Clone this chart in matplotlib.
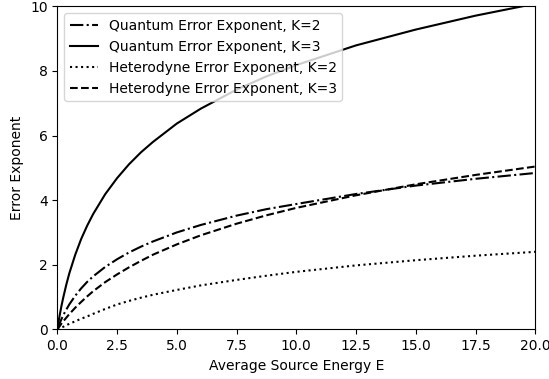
#!/usr/bin/env python3
"""Error exponent vs average source energy, quantum vs heterodyne, K=2 and K=3."""
import matplotlib
matplotlib.use("Agg")
import matplotlib.pyplot as plt

# Values (denser near E=0 where curves bend)
energy = [0, 0.05, 0.1, 0.175, 0.25, 0.375, 0.5, 0.75, 1, 1.25, 1.5, 2,
          2.5, 3, 3.5, 4, 5, 6, 7.5, 8.75, 10, 12.5, 15, 17.5, 20]
quantum_k2 = [0, 0.10, 0.19, 0.32, 0.44, 0.61, 0.77, 1.04, 1.27, 1.47, 1.64,
              1.93, 2.17, 2.38, 2.56, 2.72, 3.00, 3.23, 3.52, 3.72, 3.88,
              4.19, 4.45, 4.66, 4.84]
quantum_k3 = [0, 0.23, 0.44, 0.73, 0.99, 1.38, 1.73, 2.31, 2.80, 3.21, 3.57,
              4.18, 4.68, 5.11, 5.48, 5.80, 6.37, 6.83, 7.42, 7.83, 8.18,
              8.79, 9.28, 9.71, 10.08]
hetero_k2 = [0, 0.02, 0.04, 0.06, 0.08, 0.13, 0.17, 0.25, 0.33, 0.40, 0.48,
             0.63, 0.77, 0.88, 0.98, 1.07, 1.22, 1.36, 1.53, 1.66, 1.78,
             1.98, 2.14, 2.28, 2.40]
hetero_k3 = [0, 0.05, 0.10, 0.18, 0.25, 0.36, 0.47, 0.67, 0.85, 1.02, 1.18,
             1.46, 1.70, 1.92, 2.12, 2.31, 2.63, 2.91, 3.27, 3.53, 3.76,
             4.15, 4.49, 4.78, 5.04]

series = [
    ("Quantum Error Exponent, K=2", quantum_k2, "-."),
    ("Quantum Error Exponent, K=3", quantum_k3, "-"),
    ("Heterodyne Error Exponent, K=2", hetero_k2, ":"),
    ("Heterodyne Error Exponent, K=3", hetero_k3, "--"),
]

fig, ax = plt.subplots(figsize=(5.49, 3.79), dpi=100)
fig.subplots_adjust(left=0.1044, right=0.975, top=0.9834, bottom=0.131)

for name, ys, style in series:
    ax.plot(energy, ys, linestyle=style, color="black", label=name)

ax.set_xlim(0, 20)
ax.set_ylim(0, 10)
ax.set_xticks([0, 2.5, 5, 7.5, 10, 12.5, 15, 17.5, 20])
ax.set_xlabel("Average Source Energy E")
ax.set_ylabel("Error Exponent")
ax.legend(loc="upper left")

fig.savefig("out.png", dpi=100)
